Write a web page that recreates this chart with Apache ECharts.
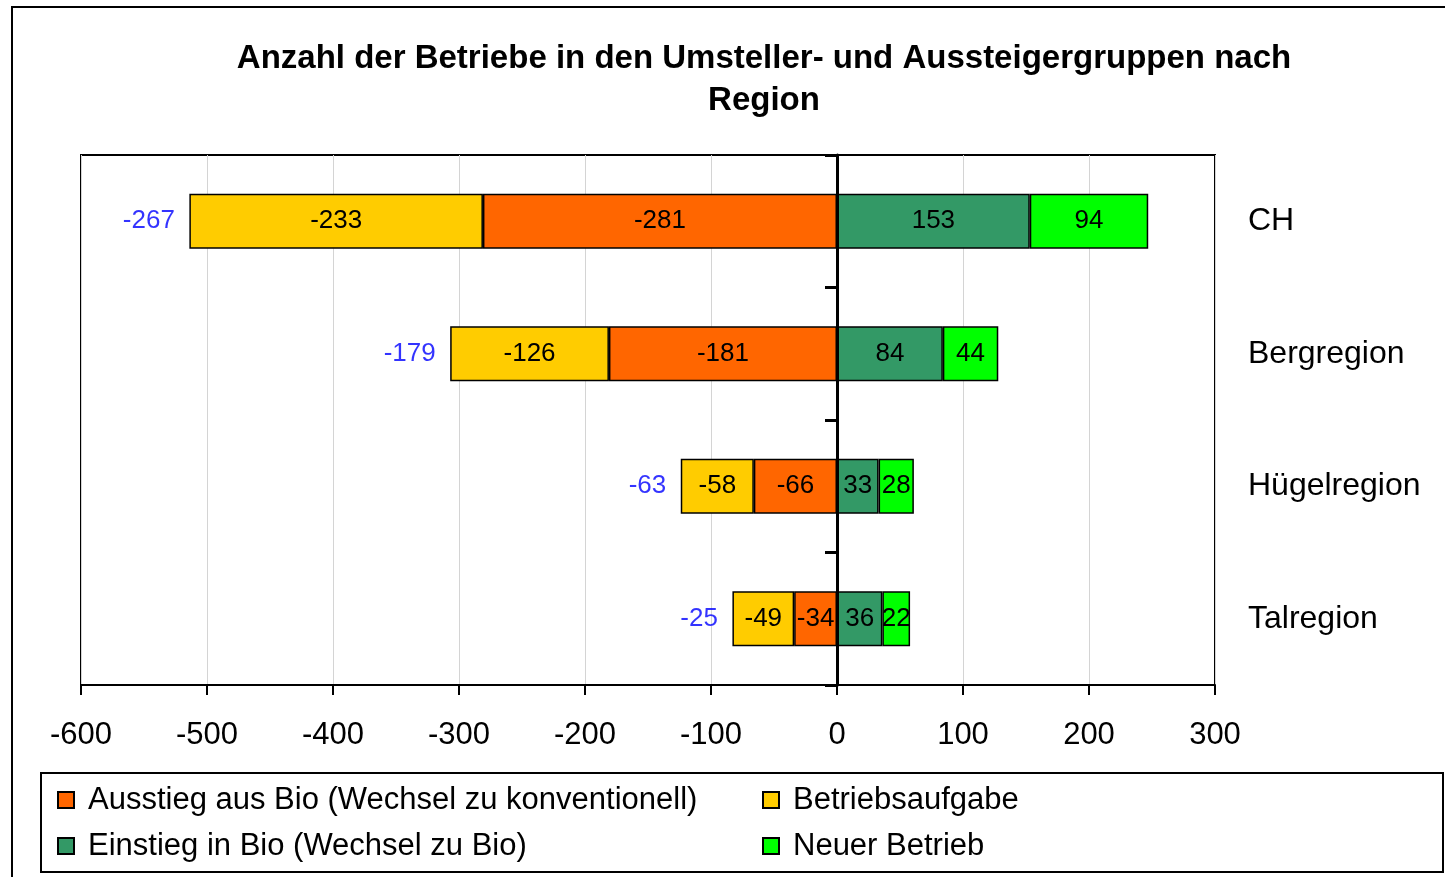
<!DOCTYPE html>
<html>
<head>
<meta charset="utf-8">
<script src="https://cdn.jsdelivr.net/npm/echarts@6/dist/echarts.min.js"></script>
<style>
  html, body { margin: 0; padding: 0; background: #fff; }
  #chart { width: 1445px; height: 877px; }
</style>
</head>
<body>
<div id="chart"></div>
<script>
const regions = ['CH', 'Bergregion', 'Hügelregion', 'Talregion'];
const ausstieg = [-281, -181, -66, -34];
const aufgabe = [-233, -126, -58, -49];
const einstieg = [153, 84, 33, 36];
const neu = [94, 44, 28, 22];
const xTicks = [-600, -500, -400, -300, -200, -100, 0, 100, 200, 300];

// Saldo je Region und linkes Ende des negativen Stapels
const saldo = regions.map((r, i) => ausstieg[i] + aufgabe[i] + einstieg[i] + neu[i]);
const negEnd = regions.map((r, i) => ausstieg[i] + aufgabe[i]);

const font = 'Liberation Sans, Arial, sans-serif';
const chart = echarts.init(document.getElementById('chart'));

const barLabel = {
  show: true,
  position: 'inside',
  color: '#000',
  fontSize: 26,
  fontFamily: font
};
const barBase = {
  type: 'bar',
  stack: 'total',
  barWidth: '41.5%',
  label: barLabel,
  emphasis: { disabled: true }
};
const legendText = { fontFamily: font, fontSize: 31, lineHeight: 34, color: '#000', padding: [0, 0, 0, 9] };

chart.setOption({
  animation: false,
  title: {
    text: 'Anzahl der Betriebe in den Umsteller- und Aussteigergruppen nach\nRegion',
    left: 759,
    top: 33,
    textAlign: 'center',
    textStyle: {
      fontFamily: font,
      fontSize: 33,
      fontWeight: 'bold',
      lineHeight: 42,
      color: '#000'
    }
  },
  // zwei Spalten
  legend: [
    {
      data: ['Ausstieg aus Bio (Wechsel zu konventionell)', 'Einstieg in Bio (Wechsel zu Bio)'],
      orient: 'vertical', padding: 0,
      left: 57, top: 783, itemWidth: 16, itemHeight: 16, itemGap: 12,
      icon: 'rect', textStyle: legendText
    },
    {
      data: ['Betriebsaufgabe', 'Neuer Betrieb'],
      orient: 'vertical', padding: 0,
      left: 762, top: 783, itemWidth: 16, itemHeight: 16, itemGap: 12,
      icon: 'rect', textStyle: legendText
    }
  ],
  graphic: [
    { type: 'rect', shape: { x: 12, y: 7, width: 1500, height: 900 },
      style: { fill: 'none', stroke: '#000', lineWidth: 2 }, silent: true },
    { type: 'rect', shape: { x: 41, y: 773, width: 1402, height: 99 },
      style: { fill: 'none', stroke: '#000', lineWidth: 2 }, silent: true }
  ],
  grid: {
    left: 81, right: 230, top: 155, bottom: 192,
    show: true, borderColor: '#000', borderWidth: 2
  },
  xAxis: {
    type: 'value',
    min: -600, max: 300, interval: 100,
    axisLine: { show: true, onZero: false, lineStyle: { color: '#000', width: 2 } },
    axisTick: { show: true, length: 10, lineStyle: { color: '#000', width: 2 } },
    axisLabel: { fontFamily: font, fontSize: 31, color: '#000', margin: 35,
      formatter: v => xTicks.includes(v) ? String(v) : '' },
    splitLine: { show: true, lineStyle: { color: '#d4d4d4', width: 1 } }
  },
  yAxis: [
    {
      type: 'category',
      data: regions,
      inverse: true,
      z: 10,
      axisLine: { show: true, onZero: true, lineStyle: { color: '#000', width: 3 } },
      axisTick: { show: true, length: 12, lineStyle: { color: '#000', width: 3 } },
      axisLabel: { show: false }
    },
    {
      type: 'category',
      data: regions,
      inverse: true,
      position: 'right',
      axisLine: { show: false },
      axisTick: { show: false },
      axisLabel: { fontFamily: font, fontSize: 32, color: '#000', margin: 33, align: 'left' }
    }
  ],
  series: [
    Object.assign({}, barBase, {
      name: 'Ausstieg aus Bio (Wechsel zu konventionell)',
      data: ausstieg,
      itemStyle: { color: '#FF6600', borderColor: '#000', borderWidth: 1.5 }
    }),
    Object.assign({}, barBase, {
      name: 'Betriebsaufgabe',
      data: aufgabe,
      itemStyle: { color: '#FFCC00', borderColor: '#000', borderWidth: 1.5 }
    }),
    Object.assign({}, barBase, {
      name: 'Einstieg in Bio (Wechsel zu Bio)',
      data: einstieg,
      itemStyle: { color: '#339966', borderColor: '#000', borderWidth: 1.5 }
    }),
    Object.assign({}, barBase, {
      name: 'Neuer Betrieb',
      data: neu,
      itemStyle: { color: '#00FF00', borderColor: '#000', borderWidth: 1.5 }
    }),
    {
      name: 'Saldo',
      type: 'scatter',
      data: negEnd.map((v, i) => [v, regions[i]]),
      symbolSize: 1,
      itemStyle: { color: 'rgba(0,0,0,0)' },
      label: {
        show: true,
        position: 'left',
        distance: 14,
        color: '#0000FF',
        fontSize: 26,
        fontFamily: font,
        formatter: p => String(saldo[p.dataIndex])
      },
      emphasis: { disabled: true },
      z: 5
    }
  ]
});
</script>
</body>
</html>
